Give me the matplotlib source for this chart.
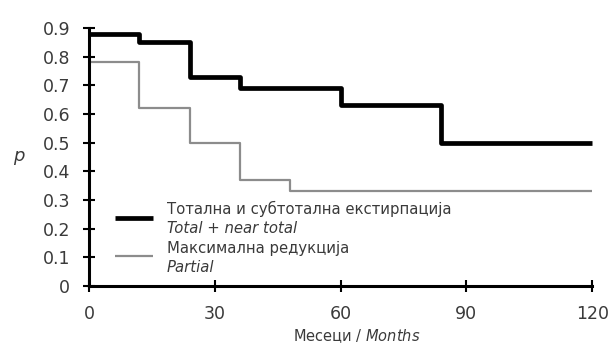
import matplotlib
matplotlib.use("Agg")
import matplotlib.pyplot as plt
from matplotlib.lines import Line2D

# Kaplan-Meier style survival steps (months, probability)
months_total = [0, 12, 24, 36, 60, 84, 120]
p_total = [0.88, 0.85, 0.73, 0.69, 0.63, 0.50, 0.50]

months_partial = [0, 12, 24, 36, 48, 120]
p_partial = [0.78, 0.62, 0.50, 0.37, 0.33, 0.33]

x_ticks = [0, 30, 60, 90, 120]
y_ticks = [0, 0.1, 0.2, 0.3, 0.4, 0.5, 0.6, 0.7, 0.8, 0.9]
y_tick_labels = ["0", "0.1", "0.2", "0.3", "0.4", "0.5", "0.6", "0.7", "0.8", "0.9"]

legend_rows = [
    ("Тотална и субтотална екстирпација", "Total + near total"),
    ("Максимална редукција", "Partial"),
]

text_color = "#3a3a3a"
plt.rcParams["font.family"] = ["DejaVu Sans"]

fig = plt.figure(figsize=(6.13, 3.49), dpi=100)
ax = fig.add_axes([0.145, 0.181, 0.821, 0.739])

ax.step(months_total, p_total, where="post", color="black", lw=3.4,
        solid_capstyle="butt", clip_on=False, zorder=3)
ax.step(months_partial, p_partial, where="post", color="#8c8c8c", lw=1.6,
        solid_capstyle="butt", clip_on=False, zorder=2)

ax.set_xlim(0, 120)
ax.set_ylim(0, 0.9)
ax.set_xticks(x_ticks)
ax.set_yticks(y_ticks)
ax.set_yticklabels(y_tick_labels)

for side in ("top", "right"):
    ax.spines[side].set_visible(False)
for side in ("left", "bottom"):
    ax.spines[side].set_linewidth(2.2)
    ax.spines[side].set_color("black")

ax.tick_params(axis="both", direction="inout", length=9, width=1.5,
               colors="black", labelcolor=text_color, labelsize=12.5)
ax.tick_params(axis="x", pad=9)
ax.tick_params(axis="y", pad=9)

ax.set_xlabel("Месеци / $\\it{Months}$", fontsize=10.5, color=text_color)
ax.xaxis.set_label_coords(0.533, -0.16)
ax.xaxis.label.set_va("top")
ax.set_ylabel("p", fontsize=13, style="italic", color=text_color, rotation=0)
ax.yaxis.set_label_coords(-0.14, 0.47)

# hand-placed legend below the curves
styles = [dict(color="black", lw=3.4), dict(color="#8c8c8c", lw=1.6)]
key_y = [0.264, 0.116]
text_y = [(0.300, 0.222), (0.145, 0.070)]
for (sr, en), st, ky, (ty1, ty2) in zip(legend_rows, styles, key_y, text_y):
    ax.add_line(Line2D([0.052, 0.127], [ky, ky], transform=ax.transAxes,
                       solid_capstyle="butt", **st))
    ax.text(0.155, ty1, sr, transform=ax.transAxes, fontsize=10.7,
            color=text_color, va="center")
    ax.text(0.155, ty2, en, transform=ax.transAxes, fontsize=10.7,
            color=text_color, va="center", style="italic")

fig.savefig("out.png", dpi=100)
